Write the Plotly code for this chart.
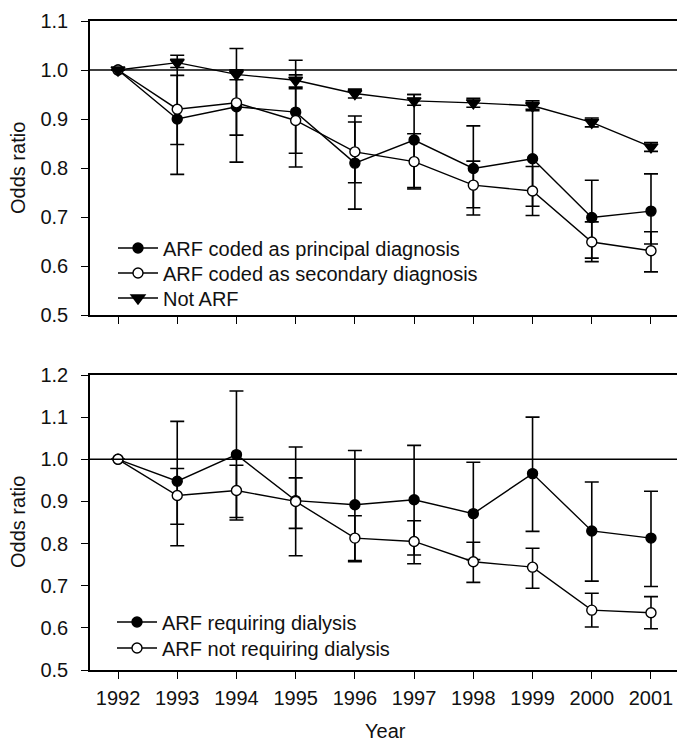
import plotly.graph_objects as go

years = list(range(1992, 2002))

# Top panel
principal = [1.0, 0.90, 0.925, 0.914, 0.81, 0.857, 0.799, 0.819, 0.699, 0.712]
principal_lo = [None, 0.787, 0.812, 0.802, 0.716, 0.76, 0.719, 0.722, 0.616, 0.645]
principal_hi = [None, 1.03, 1.044, 1.02, 0.906, 0.95, 0.886, 0.92, 0.775, 0.788]

secondary = [1.0, 0.92, 0.933, 0.897, 0.833, 0.813, 0.765, 0.753, 0.649, 0.631]
secondary_lo = [None, 0.848, 0.867, 0.83, 0.77, 0.757, 0.704, 0.703, 0.609, 0.588]
secondary_hi = [None, 0.989, 1.0, 0.965, 0.894, 0.87, 0.814, 0.803, 0.69, 0.67]

not_arf = [1.0, 1.015, 0.991, 0.979, 0.952, 0.937, 0.933, 0.927, 0.893, 0.843]
not_arf_lo = [None, 1.005, 0.98, 0.962, 0.943, 0.928, 0.924, 0.917, 0.884, 0.834]
not_arf_hi = [None, 1.022, 1.0, 0.99, 0.961, 0.95, 0.942, 0.937, 0.902, 0.852]

# Bottom panel
dialysis = [1.0, 0.948, 1.011, 0.902, 0.892, 0.904, 0.871, 0.966, 0.83, 0.813]
dialysis_lo = [None, 0.795, 0.856, 0.771, 0.76, 0.773, 0.762, 0.829, 0.711, 0.698]
dialysis_hi = [None, 1.09, 1.162, 1.029, 1.021, 1.033, 0.993, 1.10, 0.946, 0.924]

no_dialysis = [1.0, 0.914, 0.926, 0.90, 0.813, 0.805, 0.757, 0.744, 0.642, 0.636]
no_dialysis_lo = [None, 0.846, 0.862, 0.836, 0.757, 0.752, 0.708, 0.694, 0.602, 0.598]
no_dialysis_hi = [None, 0.978, 0.986, 0.956, 0.866, 0.854, 0.803, 0.789, 0.682, 0.674]

W, H = 677, 745
FONT = "Arial, Liberation Sans, sans-serif"
TXT = "#111111"
FS = 20


def err(v, lo, hi):
    plus = [None if h is None else h - x for x, h in zip(v, hi)]
    minus = [None if l is None else x - l for x, l in zip(v, lo)]
    return dict(type="data", array=plus, arrayminus=minus, symmetric=False,
                color="black", thickness=1.6, width=7)


def trace(v, lo, hi, name, symbol, fill, xa, ya, legend):
    return go.Scatter(
        x=years, y=v, name=name, mode="lines+markers",
        line=dict(color="black", width=1.4),
        marker=dict(symbol=symbol, size=12 if "triangle" in symbol else 10,
                    color=fill, line=dict(color="black", width=1.4)),
        error_y=err(v, lo, hi), xaxis=xa, yaxis=ya, legend=legend,
    )


fig = go.Figure()
fig.add_trace(trace(principal, principal_lo, principal_hi,
                    "ARF coded as principal diagnosis", "circle", "black", "x", "y", "legend"))
fig.add_trace(trace(secondary, secondary_lo, secondary_hi,
                    "ARF coded as secondary diagnosis", "circle", "white", "x", "y", "legend2"))
fig.add_trace(trace(not_arf, not_arf_lo, not_arf_hi,
                    "Not ARF", "triangle-down", "black", "x", "y", "legend3"))
fig.add_trace(trace(dialysis, dialysis_lo, dialysis_hi,
                    "ARF requiring dialysis", "circle", "black", "x2", "y2", "legend4"))
fig.add_trace(trace(no_dialysis, no_dialysis_lo, no_dialysis_hi,
                    "ARF not requiring dialysis", "circle", "white", "x2", "y2", "legend5"))


def py(px):
    return (H - px) / H


x_dom = [90 / W, 1.0]
x_rng = [1992 - 28 / 59.2, 2001 + 26 / 59.2]

xcommon = dict(range=x_rng, domain=x_dom, showline=True, linecolor="black", linewidth=1.6,
               mirror=True, ticks="outside", ticklen=7, tickwidth=1.4, tickcolor="black",
               tickvals=years, showgrid=False, zeroline=False, automargin=False,
               tickfont=dict(family=FONT, size=FS, color=TXT), ticklabelstandoff=2)
ycommon = dict(showline=True, linecolor="black", linewidth=1.6, ticks="outside", ticklen=7,
               tickwidth=1.4, tickcolor="black", showgrid=False, zeroline=False,
               automargin=False, tickformat=".1f", dtick=0.1,
               tickfont=dict(family=FONT, size=FS, color=TXT), ticklabelstandoff=9)


def leg(xpx, ypx):
    return dict(x=xpx / W, y=py(ypx), xanchor="left", yanchor="middle",
                bgcolor="rgba(0,0,0,0)", font=dict(family=FONT, size=FS, color=TXT),
                itemwidth=40)


fig.update_layout(
    width=W, height=H, margin=dict(l=0, r=0, t=0, b=0),
    paper_bgcolor="white", plot_bgcolor="white",
    font=dict(family=FONT, size=FS, color=TXT),
    xaxis=dict(xcommon, anchor="y", showticklabels=False),
    yaxis=dict(ycommon, anchor="x", domain=[py(315), py(21)], range=[0.5, 1.1]),
    xaxis2=dict(xcommon, anchor="y2", showticklabels=True),
    yaxis2=dict(ycommon, anchor="x2", domain=[py(670), py(375)], range=[0.5, 1.2]),
    legend=leg(113, 248),
    legend2=leg(113, 273),
    legend3=leg(113, 298),
    legend4=leg(112, 622),
    legend5=leg(112, 648),
    showlegend=True,
)

# Reference lines at odds ratio 1.0
for xd, ya in [("x domain", "y"), ("x2 domain", "y2")]:
    fig.add_shape(type="line", xref=xd, yref=ya,
                  x0=0, x1=1, y0=1.0, y1=1.0, line=dict(color="black", width=1.4))

# Axis titles
for yc in (168, 522):
    fig.add_annotation(text="Odds ratio", xref="paper", yref="paper", x=18 / W, y=py(yc),
                       xanchor="center", yanchor="middle", textangle=-90, showarrow=False,
                       font=dict(family=FONT, size=FS, color=TXT))
fig.add_annotation(text="Year", xref="paper", yref="paper", x=385 / W, y=py(731),
                   xanchor="center", yanchor="middle", showarrow=False, borderpad=0,
                   font=dict(family=FONT, size=FS, color=TXT))

fig.write_html("out.html", post_script="document.body.style.margin='0';",
               config={"displayModeBar": False})
